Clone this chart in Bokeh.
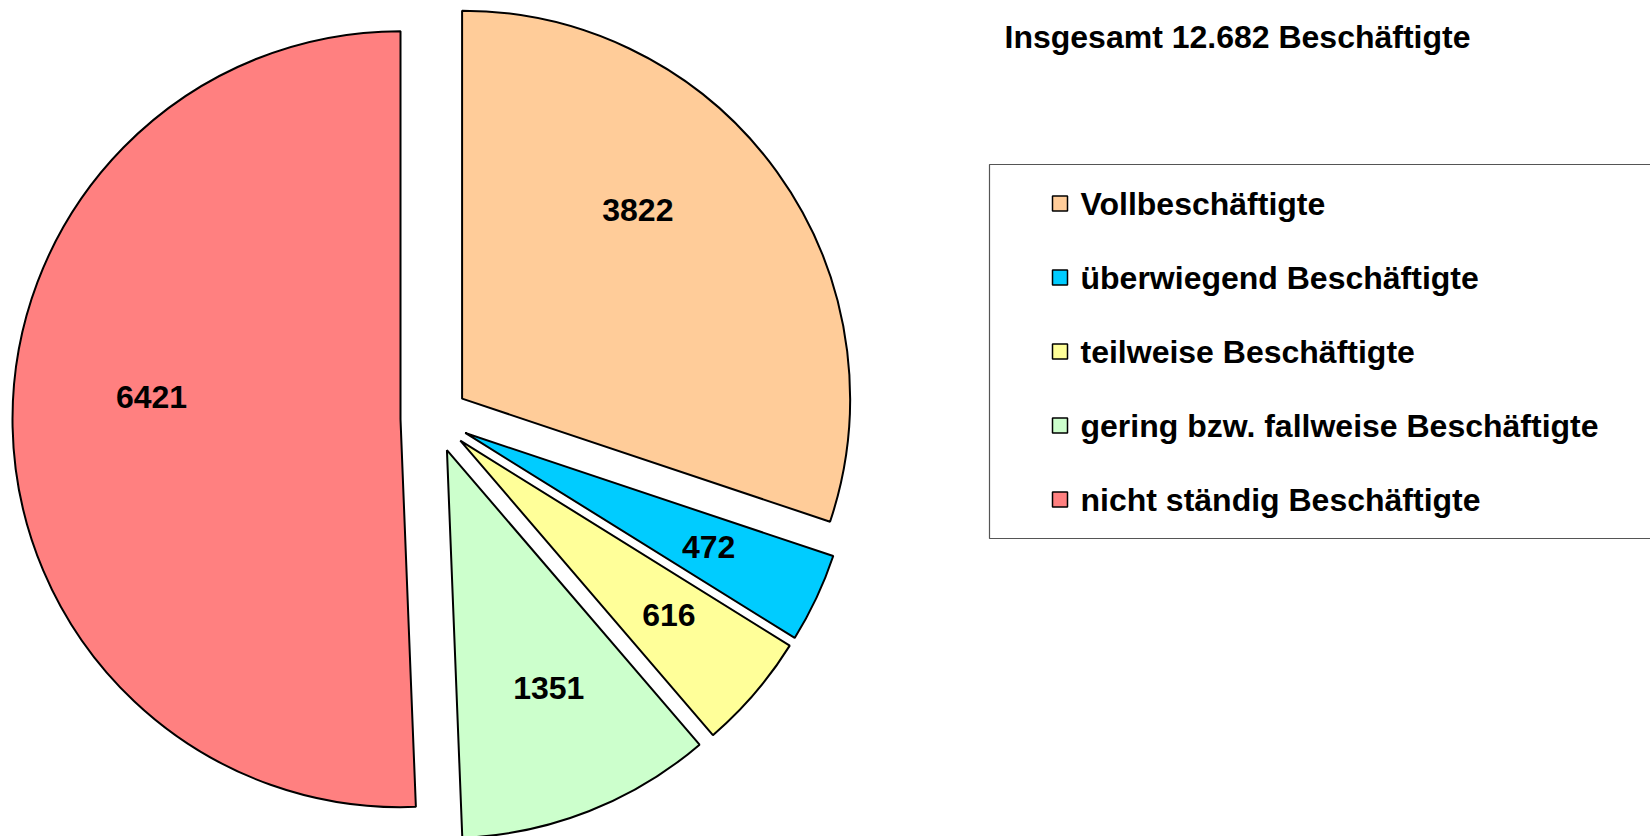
import math
from bokeh.plotting import figure
from bokeh.models import Range1d, ColumnDataSource
from bokeh.core.properties import value
from bokeh.embed import file_html
from bokeh.resources import INLINE

# ---- data ----
categories = ["Vollbeschäftigte", "überwiegend Beschäftigte", "teilweise Beschäftigte",
              "gering bzw. fallweise Beschäftigte", "nicht ständig Beschäftigte"]
values = [3822, 472, 616, 1351, 6421]
title_text = "Insgesamt 12.682 Beschäftigte"

# ---- style / layout ----
colors = ["#FFCC99", "#00CCFF", "#FFFF99", "#CCFFCC", "#FF8080"]
label_shift_deg = [-11.3, 0.0, -0.7, -1.7, 6.3]
label_dist = [258, 269, 272, 259, 250]
FONT = "Liberation Sans"
W, H = 1650, 836
CX, CY = 434, 418      # screen coords of pie center
R = 388
EXPLODE = 34

def sy(y):  # screen y -> data y
    return 836 - y

p = figure(width=W, height=H, output_backend="svg", toolbar_location=None,
           x_range=Range1d(0, W), y_range=Range1d(836 - H, 836),
           min_border=0)
p.axis.visible = False
p.grid.visible = False
p.outline_line_color = None
p.background_fill_color = "white"

total = sum(values)
cum = 0.0
xs, ys, starts, ends, lx, ly, labels = [], [], [], [], [], [], []
for i, v in enumerate(values):
    a0 = cum / total * 360.0
    cum += v
    a1 = cum / total * 360.0
    mid = math.radians((a0 + a1) / 2)
    ax = CX + EXPLODE * math.sin(mid)
    ay = CY - EXPLODE * math.cos(mid)
    xs.append(ax)
    ys.append(sy(ay))
    starts.append(math.pi / 2 - math.radians(a0))
    ends.append(math.pi / 2 - math.radians(a1))
    la = math.radians((a0 + a1) / 2 + label_shift_deg[i])
    lx.append(ax + label_dist[i] * math.sin(la))
    ly.append(sy(ay - label_dist[i] * math.cos(la)))
    labels.append(str(v))

src = ColumnDataSource(dict(x=xs, y=ys, start=starts, end=ends, color=colors,
                            lx=lx, ly=ly, label=labels))
p.wedge(x="x", y="y", radius=R, start_angle="start", end_angle="end",
        direction="clock", fill_color="color", line_color="black", line_width=2,
        source=src)
p.text(x="lx", y="ly", text="label", source=src, text_font=value(FONT),
       text_font_style="bold", text_font_size="32px", text_align="center",
       text_baseline="middle", text_color="black")

# title
p.text(x=[1004], y=[sy(36)], text=[title_text], text_font=value(FONT),
       text_font_style="bold", text_font_size="32px", text_align="left",
       text_baseline="alphabetic", text_color="black")

# legend box
p.quad(left=[989], right=[1700], top=[sy(164)], bottom=[sy(538)],
       fill_color="white", line_color="#555555", line_width=1.2)
row_y = [sy(203 + 74 * i) for i in range(len(categories))]
p.rect(x=[1059.5] * len(categories), y=row_y, width=15, height=15,
       fill_color=colors, line_color="black", line_width=1.5)
p.text(x=[1080] * len(categories), y=row_y, text=categories, text_font=value(FONT),
       text_font_style="bold", text_font_size="32px", text_align="left",
       text_baseline="middle", text_color="black")

open("out.html", "w").write(file_html(p, INLINE))
